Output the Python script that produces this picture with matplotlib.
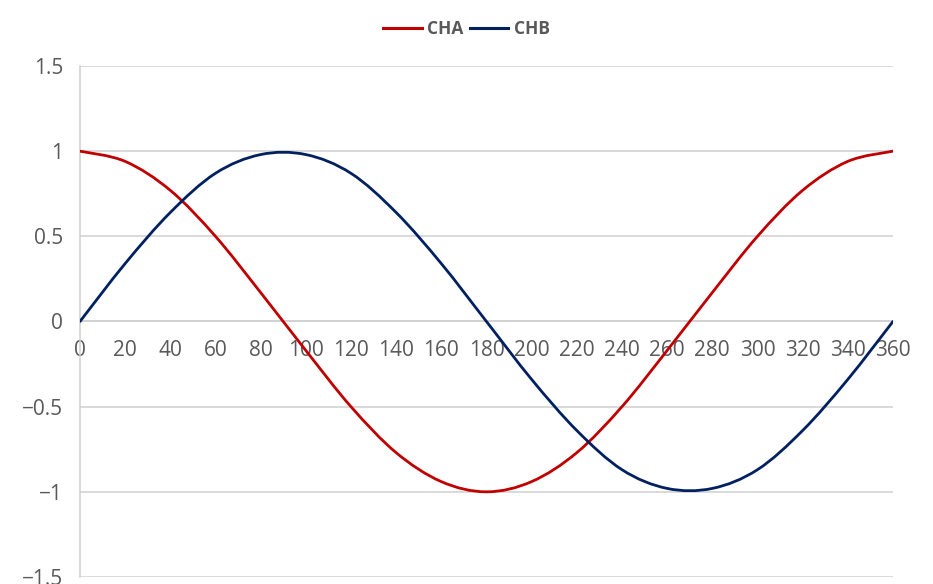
import numpy as np
import matplotlib.pyplot as plt
from matplotlib.path import Path
from matplotlib.patches import PathPatch
from matplotlib.lines import Line2D

# data (20 degree steps)
angles = [0, 20, 40, 60, 80, 100, 120, 140, 160, 180, 200, 220, 240, 260, 280, 300, 320, 340, 360]
cha = [1, 0.94, 0.77, 0.5, 0.17, -0.17, -0.5, -0.77, -0.94, -1, -0.94, -0.77, -0.5, -0.17, 0.17, 0.5, 0.77, 0.94, 1]
chb = [0, 0.34, 0.64, 0.87, 0.98, 0.98, 0.87, 0.64, 0.34, 0, -0.34, -0.64, -0.87, -0.98, -0.98, -0.87, -0.64, -0.34, 0]
y_ticks = [-1.5, -1, -0.5, 0, 0.5, 1, 1.5]
y_labels = ["\u22121.5", "\u22121", "\u22120.5", "0", "0.5", "1", "1.5"]

RED = "#C00000"
BLUE = "#002060"
GREY = "#595959"
plt.rcParams["font.family"] = ["Open Sans", "DejaVu Sans"]


def smooth_path(xs, ys):
    # spreadsheet-style smoothed line: cubic bezier through every point
    p = np.column_stack([xs, ys]).astype(float)
    verts = [p[0]]
    codes = [Path.MOVETO]
    n = len(p)
    for i in range(n - 1):
        p0 = p[i - 1] if i > 0 else p[i]
        p3 = p[i + 2] if i + 2 < n else p[i + 1]
        c1 = p[i] + (p[i + 1] - p0) / 6
        c2 = p[i + 1] - (p3 - p[i]) / 6
        verts += [c1, c2, p[i + 1]]
        codes += [Path.CURVE4] * 3
    return Path(verts, codes)


fig = plt.figure(figsize=(9.33, 5.84), dpi=100)
ax = fig.add_axes([0.0857, 0.012, 0.8714, 0.875])

for ys, col in [(cha, RED), (chb, BLUE)]:
    ax.add_patch(PathPatch(smooth_path(angles, ys), facecolor="none",
                           edgecolor=col, lw=2.0, capstyle="round", zorder=3))

ax.set_xlim(0, 360)
ax.set_ylim(-1.5, 1.5)
ax.set_xticks(angles)
ax.set_xticklabels([str(a) for a in angles])
ax.set_yticks(y_ticks)
ax.set_yticklabels(y_labels)
ax.grid(axis="y", color="#D0D0D0", lw=1.1)
ax.set_axisbelow(True)

for s in ["top", "right"]:
    ax.spines[s].set_visible(False)
ax.spines["left"].set_color("#D0D0D0")
ax.spines["left"].set_linewidth(1.1)
ax.spines["bottom"].set_position(("data", 0))
ax.spines["bottom"].set_color("#D0D0D0")
ax.spines["bottom"].set_linewidth(1.1)
ax.tick_params(axis="both", length=0, labelsize=15, labelcolor=GREY)
ax.tick_params(axis="y", pad=12)
ax.tick_params(axis="x", pad=13)

handles = [Line2D([], [], color=RED, lw=2.2), Line2D([], [], color=BLUE, lw=2.2)]
fig.legend(handles, ["CHA", "CHB"], loc="center", bbox_to_anchor=(0.5, 0.95),
           ncol=2, frameon=False, handlelength=2.2, handletextpad=0.3,
           columnspacing=0.4, prop={"size": 12.5, "weight": "bold"}, labelcolor=GREY)

fig.savefig("out.png", dpi=100)
